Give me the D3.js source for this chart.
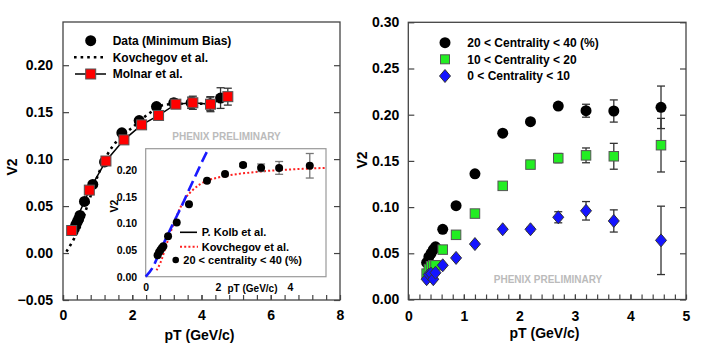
<!DOCTYPE html>
<html>
<head>
<meta charset="utf-8">
<script src="https://cdn.jsdelivr.net/npm/d3@7"></script>
<style>
  body { margin: 0; background: #fff; }
  text { font-family: "Liberation Sans", Arial, sans-serif; font-weight: bold; fill: #000; }
</style>
</head>
<body>
<svg id="chart" width="708" height="348"></svg>
<script>
// ---- data ----
// minimum bias (left panel)
const mbPt  = [0.33, 0.37, 0.41, 0.45, 0.49, 0.62, 0.86, 1.2, 1.7, 2.2, 2.7, 3.2, 3.7, 4.25, 4.55];
const mbV2  = [0.026, 0.030, 0.033, 0.036, 0.040, 0.055, 0.073, 0.097, 0.128, 0.141, 0.156, 0.160, 0.160, 0.159, 0.165];
const mbErr = [0, 0, 0, 0, 0, 0, 0, 0, 0, 0, 0.003, 0.004, 0.006, 0.007, 0.011];

const molnarPt  = [0.25, 0.76, 1.24, 1.76, 2.27, 2.76, 3.26, 3.75, 4.26, 4.76];
const molnarV2  = [0.024, 0.067, 0.098, 0.1205, 0.1365, 0.1465, 0.1585, 0.160, 0.1585, 0.1665];
const molnarErr = [0, 0, 0, 0, 0, 0, 0.003, 0.007, 0.008, 0.009];

const kovMainPt = [0.1, 0.3, 0.5, 0.7, 0.9, 1.1, 1.3, 1.45, 1.75, 1.98, 2.5, 2.95, 3.5, 4.3];
const kovMainV2 = [0.0015, 0.014, 0.029, 0.050, 0.072, 0.091, 0.106, 0.1145, 0.126, 0.133, 0.149, 0.158, 0.159, 0.159];

// inset curves
const kolbPt = [0, 0.2, 0.4, 0.6, 0.8, 1.0, 1.2, 1.4, 1.6, 1.74];
const kolbV2 = [0, 0.018, 0.048, 0.077, 0.105, 0.133, 0.163, 0.192, 0.221, 0.24];
const kovInsetPt = [0.3, 0.4, 0.6, 0.8, 1.0, 1.1, 1.3, 1.5, 1.7, 2.0, 2.5, 3.0, 3.5, 4.0, 5.0];
const kovInsetV2 = [0.012, 0.025, 0.065, 0.104, 0.135, 0.147, 0.162, 0.173, 0.180, 0.186, 0.192, 0.196, 0.199, 0.201, 0.204];

// centrality classes (right panel, 20-40 also in inset)
const centPt    = [0.33, 0.37, 0.41, 0.45, 0.49, 0.62, 0.86, 1.2, 1.7, 2.2, 2.7, 3.2, 3.7, 4.55];
const c2040V2   = [0.040, 0.046, 0.050, 0.054, 0.057, 0.076, 0.1015, 0.136, 0.180, 0.1925, 0.2094, 0.2043, 0.204, 0.208];
const c2040Err  = [0, 0, 0, 0, 0, 0, 0, 0, 0, 0, 0.003, 0.007, 0.012, 0.023];
const c1020V2   = [0.028, 0.033, 0.036, 0.037, 0.037, 0.054, 0.070, 0.093, 0.123, 0.146, 0.153, 0.156, 0.155, 0.167];
const c1020Err  = [0, 0, 0, 0, 0, 0, 0, 0, 0, 0.002, 0.005, 0.008, 0.014, 0.029];
const c010V2    = [0.022, 0.027, 0.028, 0.022, 0.029, 0.037, 0.045, 0.060, 0.076, 0.076, 0.089, 0.096, 0.085, 0.064];
const c010Err   = [0, 0, 0, 0, 0, 0, 0, 0, 0, 0.002, 0.006, 0.010, 0.012, 0.037];

const leftYTicks  = [-0.05, 0, 0.05, 0.10, 0.15, 0.20];
const leftXTicks  = [0, 2, 4, 6, 8];
const rightYTicks = [0, 0.05, 0.10, 0.15, 0.20, 0.25, 0.30];
const rightXTicks = [0, 1, 2, 3, 4, 5];
const insetYTicks = [0, 0.05, 0.10, 0.15, 0.20];
const insetXTicks = [0, 2, 4];

const zip = (a, b, e) => a.map((v, i) => ({ x: v, y: b[i], e: e ? e[i] : 0 }));

const svg = d3.select("#chart");
const frameCol = "#444";

// draw a framed panel with inward ticks
function axes(x, y, o) {
  const [x0, x1] = x.range(), [y0, y1] = y.range();
  const g = svg.append("g");

  const yl = g.append("g").attr("transform", `translate(${x0},0)`)
    .call(d3.axisLeft(y).tickValues(o.yTicks).tickSize(-6).tickPadding(o.yPad)
      .tickFormat(d3.format(".2f")));
  const yr = g.append("g").attr("transform", `translate(${x1},0)`)
    .call(d3.axisRight(y).tickValues(o.yTicks).tickSize(-6).tickFormat(""));
  const xb = g.append("g").attr("transform", `translate(0,${y0})`)
    .call(d3.axisBottom(x).tickValues(o.xTicks).tickSize(-5).tickPadding(o.xPad)
      .tickFormat(d3.format("d")));
  const xm = g.append("g").attr("transform", `translate(0,${y0})`)
    .call(d3.axisBottom(x).tickValues(d3.range(x.domain()[0], x.domain()[1], o.minor)).tickSize(-5).tickFormat(""));

  [yl, yr, xb, xm].forEach(a => {
    a.select(".domain").remove();
    a.selectAll("line").attr("stroke", frameCol).attr("stroke-width", 1.2);
    a.selectAll("text").style("font-size", o.fs + "px");
  });

  g.append("rect")
    .attr("x", x0).attr("y", y1).attr("width", x1 - x0).attr("height", y0 - y1)
    .attr("fill", "none").attr("stroke", frameCol).attr("stroke-width", 1.3);
  return g;
}

function errorBars(g, data, x, y, col) {
  const d = data.filter(p => p.e > 0);
  g.selectAll(null).data(d).enter().append("line")
    .attr("x1", p => x(p.x)).attr("x2", p => x(p.x))
    .attr("y1", p => y(p.y - p.e)).attr("y2", p => y(p.y + p.e))
    .attr("stroke", col).attr("stroke-width", 1.3);
  [-1, 1].forEach(s => {
    g.selectAll(null).data(d).enter().append("line")
      .attr("x1", p => x(p.x) - 4).attr("x2", p => x(p.x) + 4)
      .attr("y1", p => y(p.y + s * p.e)).attr("y2", p => y(p.y + s * p.e))
      .attr("stroke", col).attr("stroke-width", 1.3);
  });
}

function circles(g, data, x, y, r) {
  g.selectAll(null).data(data).enter().append("circle")
    .attr("cx", p => x(p.x)).attr("cy", p => y(p.y)).attr("r", r).attr("fill", "#000");
}

function squares(g, data, x, y, s, fill) {
  g.selectAll(null).data(data).enter().append("rect")
    .attr("x", p => x(p.x) - s / 2).attr("y", p => y(p.y) - s / 2)
    .attr("width", s).attr("height", s)
    .attr("fill", fill).attr("stroke", "#555").attr("stroke-width", 1);
}

const diamond = "M0,-6.5L5.5,0L0,6.5L-5.5,0Z";
function diamonds(g, data, x, y) {
  g.selectAll(null).data(data).enter().append("path")
    .attr("d", diamond)
    .attr("transform", p => `translate(${x(p.x)},${y(p.y)})`)
    .attr("fill", "#1414ff").attr("stroke", "#333").attr("stroke-width", 1);
}

function title(txt, cx, cy, fs, rot) {
  svg.append("text").attr("text-anchor", "middle")
    .attr("transform", `translate(${cx},${cy})` + (rot ? " rotate(-90)" : ""))
    .attr("dy", "0.35em").style("font-size", fs + "px").text(txt);
}

function prelim(cx, cy) {
  svg.append("text").attr("x", cx).attr("y", cy).attr("dy", "0.35em")
    .attr("text-anchor", "middle").style("font-size", "10px").style("fill", "#bbb")
    .text("PHENIX PRELIMINARY");
}

// ================= left panel =================
const xL = d3.scaleLinear().domain([0, 8]).range([63, 340]);
const yL = d3.scaleLinear().domain([-0.05, 0.246]).range([300, 22]);
axes(xL, yL, { yTicks: leftYTicks, xTicks: leftXTicks, minor: 0.4, yPad: 10, xPad: 10, fs: 14 });

const gL = svg.append("g");
gL.append("path").datum(zip(kovMainPt, kovMainV2))
  .attr("d", d3.line().x(p => xL(p.x)).y(p => yL(p.y)).curve(d3.curveMonotoneX))
  .attr("fill", "none").attr("stroke", "#000").attr("stroke-width", 2.6)
  .attr("stroke-dasharray", "2.6,4");
gL.append("path").datum(zip(molnarPt, molnarV2))
  .attr("d", d3.line().x(p => xL(p.x)).y(p => yL(p.y)))
  .attr("fill", "none").attr("stroke", "#000").attr("stroke-width", 1.5);
const mbData = zip(mbPt, mbV2, mbErr);
const molData = zip(molnarPt, molnarV2, molnarErr);
errorBars(gL, mbData, xL, yL, "#333");
errorBars(gL, molData, xL, yL, "#333");
circles(gL, mbData, xL, yL, 5.5);
squares(gL, molData, xL, yL, 10, "#ff0000");

// legend (left)
circles(svg, [{ x: 0, y: 0 }], () => 90.7, () => 40.7, 5.5);
svg.append("line").attr("x1", 74).attr("x2", 103).attr("y1", 57.3).attr("y2", 57.3)
  .attr("stroke", "#000").attr("stroke-width", 2.6).attr("stroke-dasharray", "2.6,4");
svg.append("line").attr("x1", 75).attr("x2", 106).attr("y1", 74).attr("y2", 74)
  .attr("stroke", "#000").attr("stroke-width", 1.5);
squares(svg, [{ x: 0, y: 0 }], () => 90.7, () => 74, 10, "#ff0000");
[["Data (Minimum Bias)", 40.7], ["Kovchegov et al.", 57.3], ["Molnar et al.", 74]].forEach(([t, yy]) => {
  svg.append("text").attr("x", 112.7).attr("y", yy).attr("dy", "0.35em").style("font-size", "12px").text(t);
});

prelim(226.5, 136.7);
title("pT (GeV/c)", 199.5, 335, 14);
title("V2", 12, 167, 14, true);

// ================= inset =================
const xI = d3.scaleLinear().domain([0, 5]).range([145.7, 326]);
const yI = d3.scaleLinear().domain([0, 0.24]).range([276.7, 148.7]);
svg.append("rect").attr("x", 145.7).attr("y", 148.7).attr("width", 326 - 145.7).attr("height", 276.7 - 148.7)
  .attr("fill", "#fff").attr("stroke", "#999").attr("stroke-width", 1.2);

const gI = svg.append("g");
const iy = gI.append("g").attr("transform", "translate(145.7,0)")
  .call(d3.axisLeft(yI).tickValues(insetYTicks).tickSize(0).tickPadding(8.5).tickFormat(d3.format(".2f")));
const ix = gI.append("g").attr("transform", "translate(0,276.7)")
  .call(d3.axisBottom(xI).tickValues(insetXTicks).tickSize(0).tickPadding(7).tickFormat(d3.format("d")));
[iy, ix].forEach(a => {
  a.select(".domain").remove();
  a.selectAll("text").style("font-size", "10.5px");
});
svg.append("text").attr("x", 252.5).attr("y", 288.3).attr("dy", "0.35em").attr("text-anchor", "middle")
  .style("font-size", "10px").text("pT (GeV/c)");
title("V2", 114, 206, 10.5, true);

gI.append("path").datum(zip(kovInsetPt, kovInsetV2))
  .attr("d", d3.line().x(p => xI(p.x)).y(p => yI(p.y)).curve(d3.curveMonotoneX))
  .attr("fill", "none").attr("stroke", "#ff2020").attr("stroke-width", 2)
  .attr("stroke-dasharray", "2,2.2");
gI.append("path").datum(zip(kolbPt, kolbV2))
  .attr("d", d3.line().x(p => xI(p.x)).y(p => yI(p.y)).curve(d3.curveMonotoneX))
  .attr("fill", "none").attr("stroke", "#1a1aff").attr("stroke-width", 2.6)
  .attr("stroke-dasharray", "11,5");
const insetData = zip(centPt, c2040V2, c2040Err);
errorBars(gI, insetData, xI, yI, "#777");
circles(gI, insetData, xI, yI, 4);

// inset legend
svg.append("line").attr("x1", 180).attr("x2", 197).attr("y1", 232.3).attr("y2", 232.3)
  .attr("stroke", "#000").attr("stroke-width", 1.6);
svg.append("line").attr("x1", 180).attr("x2", 198).attr("y1", 246.7).attr("y2", 246.7)
  .attr("stroke", "#ff2020").attr("stroke-width", 2).attr("stroke-dasharray", "2,2.2");
circles(svg, [{ x: 0, y: 0 }], () => 175.7, () => 260, 3.3);
[["P. Kolb et al.", 201.7, 232.3], ["Kovchegov et al.", 201.7, 246.7], ["20 < centrality < 40 (%)", 183.3, 260]]
  .forEach(([t, xx, yy]) => {
    svg.append("text").attr("x", xx).attr("y", yy).attr("dy", "0.35em").style("font-size", "11px").text(t);
  });

// ================= right panel =================
const xR = d3.scaleLinear().domain([0, 5]).range([408.3, 686]);
const yR = d3.scaleLinear().domain([0, 0.30]).range([299.5, 22.3]);
axes(xR, yR, { yTicks: rightYTicks, xTicks: rightXTicks, minor: 0.2, yPad: 9, xPad: 12, fs: 14 });

const gR = svg.append("g");
const d2040 = zip(centPt, c2040V2, c2040Err);
const d1020 = zip(centPt, c1020V2, c1020Err);
const d010 = zip(centPt, c010V2, c010Err);
errorBars(gR, d2040, xR, yR, "#333");
errorBars(gR, d1020, xR, yR, "#333");
errorBars(gR, d010, xR, yR, "#333");
circles(gR, d2040, xR, yR, 5.5);
squares(gR, d1020, xR, yR, 9.5, "#22ee22");
diamonds(gR, d010, xR, yR);

// legend (right)
circles(svg, [{ x: 0, y: 0 }], () => 445, () => 42.7, 5.5);
squares(svg, [{ x: 0, y: 0 }], () => 445, () => 59.3, 9, "#22ee22");
diamonds(svg, [{ x: 0, y: 0 }], () => 445, () => 76);
[["20 < Centrality < 40 (%)", 42.7], ["10 < Centrality < 20", 59.3], ["0 < Centrality < 10", 76]].forEach(([t, yy]) => {
  svg.append("text").attr("x", 467.3).attr("y", yy).attr("dy", "0.35em").style("font-size", "12px").text(t);
});

prelim(548, 279);
title("pT (GeV/c)", 544.5, 333, 14);
title("V2", 362, 160, 14, true);
</script>
</body>
</html>
